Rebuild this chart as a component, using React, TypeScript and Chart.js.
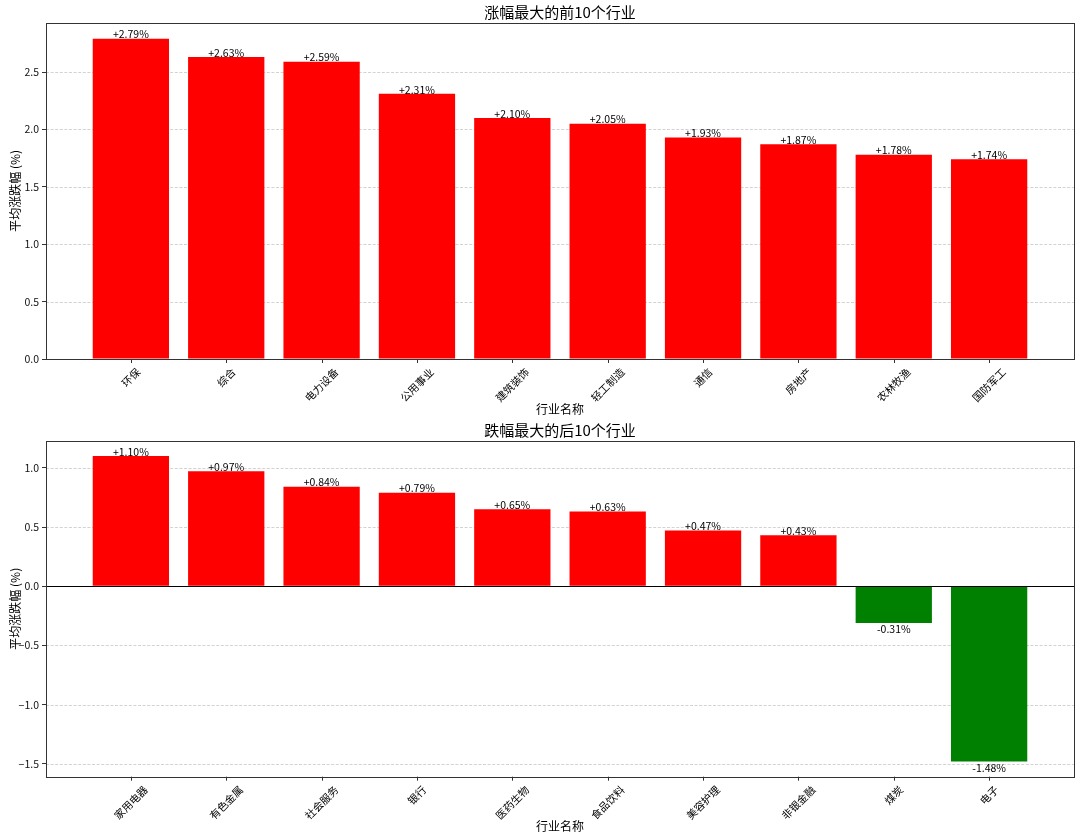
import React, { useEffect, useRef } from "react";
import { Chart, registerables } from "chart.js";

Chart.register(...registerables);

const FONT = '"Noto Sans CJK SC", "Noto Sans", sans-serif';

const topTitle = "涨幅最大的前10个行业";
const bottomTitle = "跌幅最大的后10个行业";
const xAxisTitle = "行业名称";
const yAxisTitle = "平均涨跌幅 (%)";

const topCategories = ["环保", "综合", "电力设备", "公用事业", "建筑装饰", "轻工制造", "通信", "房地产", "农林牧渔", "国防军工"];
const topValues = [2.79, 2.63, 2.59, 2.31, 2.1, 2.05, 1.93, 1.87, 1.78, 1.74];

const bottomCategories = ["家用电器", "有色金属", "社会服务", "银行", "医药生物", "食品饮料", "美容护理", "非银金融", "煤炭", "电子"];
const bottomValues = [1.1, 0.97, 0.84, 0.79, 0.65, 0.63, 0.47, 0.43, -0.31, -1.48];

const topYTicks = [0, 0.5, 1.0, 1.5, 2.0, 2.5];
const bottomYTicks = [-1.5, -1.0, -0.5, 0, 0.5, 1.0];

const RED = "#ff0000";
const GREEN = "#008000";

type PanelProps = {
  title: string;
  categories: string[];
  values: number[];
  yTicks: number[];
  padTop: number;
  padBottom: number;
  zeroLine: boolean;
};

function fmtTick(v: number): string {
  return v < 0 ? "\u2212" + Math.abs(v).toFixed(1) : v.toFixed(1);
}

function BarPanel({ title, categories, values, yTicks, padTop, padBottom, zeroLine }: PanelProps) {
  const ref = useRef<HTMLCanvasElement | null>(null);

  useEffect(() => {
    if (!ref.current) return;
    const n = values.length;
    const xMin = -0.4 - 0.05 * (n - 0.2);
    const xMax = n - 1 + 0.4 + 0.05 * (n - 0.2);
    const dMax = Math.max(0, ...values);
    const dMin = Math.min(0, ...values);
    const span = dMax - dMin;
    const yMax = dMax + 0.05 * span;
    const yMin = dMin < 0 ? dMin - 0.05 * span : 0;

    const overlay = {
      id: "overlay",
      beforeDatasetsDraw(chart: any) {
        const { ctx, chartArea: a } = chart;
        const y = chart.scales.y;
        ctx.save();
        ctx.strokeStyle = "rgba(176,176,176,0.7)";
        ctx.lineWidth = 0.8;
        ctx.setLineDash([3, 1.6]);
        yTicks.forEach((v) => {
          const py = Math.round(y.getPixelForValue(v)) + 0.5;
          ctx.beginPath();
          ctx.moveTo(a.left, py);
          ctx.lineTo(a.right, py);
          ctx.stroke();
        });
        ctx.restore();
      },
      afterDatasetsDraw(chart: any) {
        const { ctx, chartArea: a } = chart;
        const x = chart.scales.x;
        const y = chart.scales.y;
        ctx.save();
        if (zeroLine) {
          const py = Math.round(y.getPixelForValue(0)) + 0.5;
          ctx.strokeStyle = "#000";
          ctx.lineWidth = 1;
          ctx.beginPath();
          ctx.moveTo(a.left, py);
          ctx.lineTo(a.right, py);
          ctx.stroke();
        }
        ctx.strokeStyle = "#333";
        ctx.lineWidth = 1;
        ctx.strokeRect(Math.round(a.left) + 0.5, Math.round(a.top) + 0.5, Math.round(a.right - a.left), Math.round(a.bottom - a.top));

        ctx.fillStyle = "#000";
        ctx.font = `10.5px ${FONT}`;
        ctx.textAlign = "center";
        const meta = chart.getDatasetMeta(0);
        meta.data.forEach((bar: any, i: number) => {
          const v = values[i];
          const txt = (v >= 0 ? "+" : "-") + Math.abs(v).toFixed(2) + "%";
          if (v >= 0) {
            ctx.textBaseline = "bottom";
            ctx.fillText(txt, bar.x, bar.y + 1);
          } else {
            ctx.textBaseline = "top";
            ctx.fillText(txt, bar.x, bar.y + 1);
          }
        });

        ctx.font = `10.5px ${FONT}`;
        categories.forEach((c, i) => {
          const px = x.getPixelForValue(i);
          ctx.strokeStyle = "#333";
          ctx.lineWidth = 1;
          ctx.beginPath();
          ctx.moveTo(Math.round(px) + 0.5, a.bottom);
          ctx.lineTo(Math.round(px) + 0.5, a.bottom + 4);
          ctx.stroke();
          const L = ctx.measureText(c).width;
          const box = (L + 10) * Math.SQRT1_2;
          const cy = a.bottom + 4 + 3.5 + box / 2;
          ctx.save();
          ctx.translate(px, cy);
          ctx.rotate(-Math.PI / 4);
          ctx.textAlign = "center";
          ctx.textBaseline = "middle";
          ctx.fillStyle = "#000";
          ctx.fillText(c, 0, 0);
          ctx.restore();
        });

        ctx.fillStyle = "#000";
        ctx.textAlign = "center";
        ctx.textBaseline = "middle";
        ctx.font = `15px ${FONT}`;
        ctx.fillText(title, (a.left + a.right) / 2, a.top - 10);

        ctx.font = `12px ${FONT}`;
        ctx.fillText(xAxisTitle, (a.left + a.right) / 2, a.bottom + 50);

        ctx.save();
        ctx.translate(15, (a.top + a.bottom) / 2);
        ctx.rotate(-Math.PI / 2);
        ctx.fillText(yAxisTitle, 0, 0);
        ctx.restore();

        ctx.restore();
      },
    };

    const chart = new Chart(ref.current, {
      type: "bar",
      data: {
        datasets: [
          {
            data: values.map((v, i) => ({ x: i, y: v })),
            backgroundColor: values.map((v) => (v >= 0 ? RED : GREEN)),
            borderWidth: 0,
            barPercentage: 0.8,
            categoryPercentage: 1.0,
          },
        ],
      },
      options: {
        animation: false,
        responsive: false,
        devicePixelRatio: 1,
        layout: { padding: { top: padTop, bottom: padBottom, left: 0, right: 6 } },
        plugins: { legend: { display: false }, tooltip: { enabled: false }, title: { display: false } },
        scales: {
          x: {
            type: "linear",
            display: false,
            offset: false,
            min: xMin,
            max: xMax,
            afterBuildTicks: (scale: any) => {
              scale.ticks = categories.map((_, i) => ({ value: i }));
            },
          },
          y: {
            type: "linear",
            position: "left",
            min: yMin,
            max: yMax,
            afterBuildTicks: (scale: any) => {
              scale.ticks = yTicks.map((v) => ({ value: v }));
            },
            afterFit: (scale: any) => {
              scale.width = 46;
            },
            ticks: {
              font: { family: FONT, size: 10.5 },
              color: "#111",
              padding: 3,
              callback: (v: any) => fmtTick(Number(v)),
            },
            grid: {
              display: true,
              drawOnChartArea: false,
              drawTicks: true,
              tickLength: 4,
              tickColor: "#333",
              tickWidth: 1,
            },
            border: { display: false },
          },
        },
      },
      plugins: [overlay],
    } as any);

    return () => chart.destroy();
  }, [title, categories, values, yTicks, padTop, padBottom, zeroLine]);

  return <canvas ref={ref} width={1080} height={419} style={{ display: "block", width: 1080, height: 419 }} />;
}

export default function App() {
  return (
    <div style={{ position: "fixed", left: 0, top: 0, width: 1080, height: 838, background: "#fff" }}>
      <BarPanel title={topTitle} categories={topCategories} values={topValues} yTicks={topYTicks} padTop={22.7} padBottom={60} zeroLine={false} />
      <BarPanel title={bottomTitle} categories={bottomCategories} values={bottomValues} yTicks={bottomYTicks} padTop={21.7} padBottom={61.3} zeroLine={true} />
    </div>
  );
}
